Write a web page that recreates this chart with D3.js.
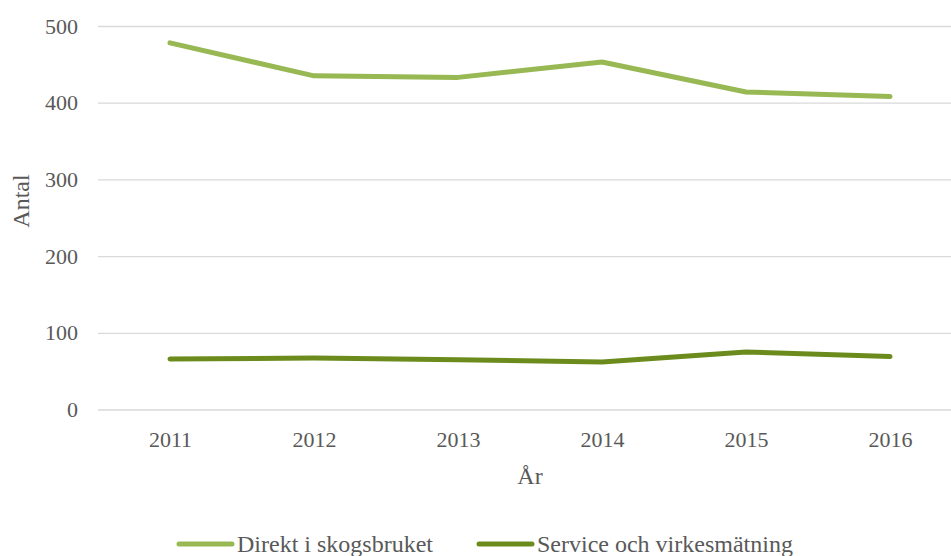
<!DOCTYPE html>
<html>
<head>
<meta charset="utf-8">
<script src="https://cdn.jsdelivr.net/npm/d3@7"></script>
<style>
  body { margin: 0; background: #fff; }
  svg { display: block; font-family: "Liberation Serif", "Times New Roman", serif; }
</style>
</head>
<body>
<div id="vis"></div>
<script>
// ── DATA ──────────────────────────────────────────────
const years   = ["2011", "2012", "2013", "2014", "2015", "2016"];
const direkt  = [478, 435, 433, 453, 414, 408];
const service = [66, 67, 65, 62, 75, 69];
const yTicks  = [0, 100, 200, 300, 400, 500];

const seriesNames  = ["Direkt i skogsbruket", "Service och virkesmätning"];
const seriesColors = ["#97b853", "#6b8c1c"];

// ── CONFIG ────────────────────────────────────────────
const width        = 951;
const height       = 556;
const plotLeft     = 98;
const plotRight    = 962;
const plotTop      = 26;
const plotBottom   = 409.5;
const textColor    = "#595959";
const fontSize     = 22;
const legendSize   = 24;

const svg = d3.select("#vis").append("svg")
    .attr("width", width)
    .attr("height", height);

const x = d3.scalePoint().domain(years).range([plotLeft, plotRight]).padding(0.5);
const y = d3.scaleLinear().domain([0, 500]).range([plotBottom, plotTop]);

// gridlines + y labels
const yAxis = svg.append("g")
    .attr("transform", `translate(${plotLeft},0)`)
    .call(d3.axisLeft(y).tickValues(yTicks).tickSize(-(width - plotLeft)).tickPadding(20));
yAxis.select(".domain").remove();
yAxis.selectAll(".tick line").attr("stroke", "#d9d9d9").attr("stroke-width", 1.3);
yAxis.selectAll(".tick text")
    .attr("fill", textColor)
    .style("font-size", fontSize + "px")
    .style("font-family", "Liberation Serif");

// x labels
const xAxis = svg.append("g")
    .attr("transform", `translate(0,${plotBottom})`)
    .call(d3.axisBottom(x).tickSize(0).tickPadding(22));
xAxis.select(".domain").remove();
xAxis.selectAll(".tick text")
    .attr("fill", textColor)
    .style("font-size", fontSize + "px")
    .style("font-family", "Liberation Serif");

// axis titles
svg.append("text")
    .attr("x", 530).attr("y", 484)
    .attr("text-anchor", "middle")
    .attr("fill", textColor)
    .style("font-size", legendSize + "px")
    .text("År");

svg.append("text")
    .attr("transform", "translate(29,201) rotate(-90)")
    .attr("text-anchor", "middle")
    .attr("fill", textColor)
    .style("font-size", legendSize + "px")
    .text("Antal");

// lines
const line = d3.line()
    .x((d, i) => x(years[i]))
    .y(d => y(d));

[direkt, service].forEach((vals, i) => {
  svg.append("path")
      .datum(vals)
      .attr("fill", "none")
      .attr("stroke", seriesColors[i])
      .attr("stroke-width", 5)
      .attr("stroke-linecap", "round")
      .attr("stroke-linejoin", "round")
      .attr("d", line);
});

// legend
const legendX = [179, 479];
const legend = svg.append("g");
seriesNames.forEach((name, i) => {
  const g = legend.append("g").attr("transform", `translate(${legendX[i]},544)`);
  g.append("line")
      .attr("x1", 0).attr("x2", 53)
      .attr("stroke", seriesColors[i])
      .attr("stroke-width", 5)
      .attr("stroke-linecap", "round");
  g.append("text")
      .attr("x", 58).attr("y", 8)
      .attr("fill", textColor)
      .style("font-size", legendSize + "px")
      .text(name);
});
</script>
</body>
</html>
